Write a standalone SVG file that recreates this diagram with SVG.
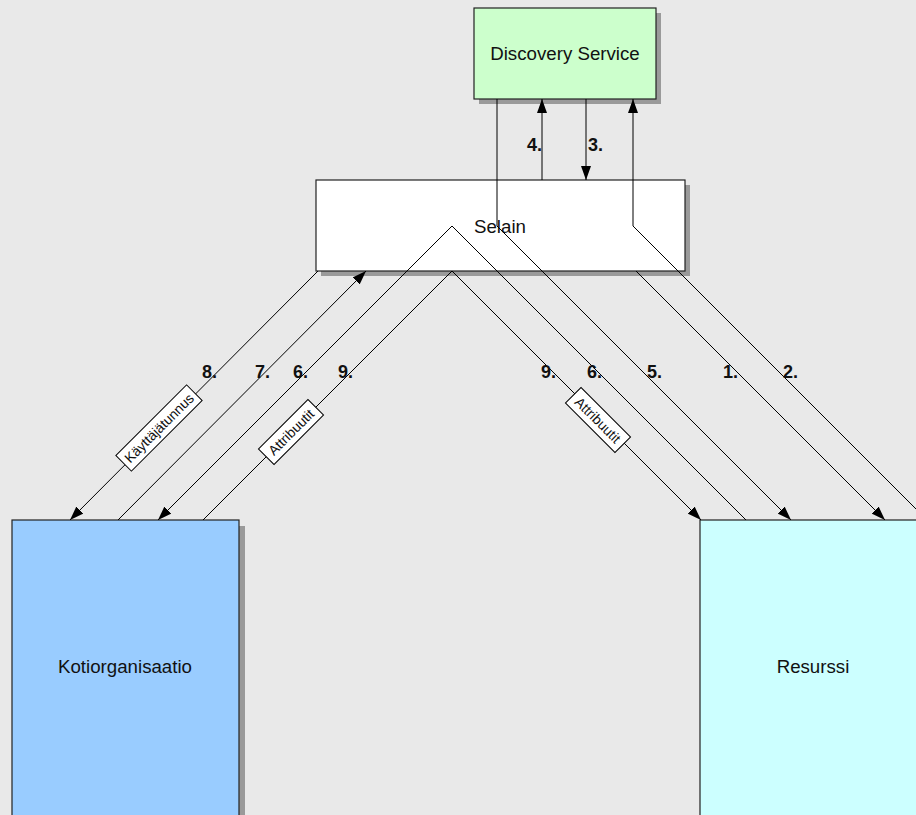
<svg xmlns="http://www.w3.org/2000/svg" width="916" height="815" viewBox="0 0 916 815">
<defs>
<marker id="arr" viewBox="0 0 14 10" refX="14" refY="5" markerWidth="14" markerHeight="10" markerUnits="userSpaceOnUse" orient="auto"><path d="M0,0 L14,5 L0,10 z" fill="#000"/></marker>
</defs>
<style>
.shadow{fill:#9a9a9a}
.box{stroke:#222;stroke-width:1.2}
.nl{font-family:"Liberation Sans",Arial,sans-serif;font-size:18.7px;fill:#111;text-anchor:middle}
.num{font-family:"Liberation Sans",Arial,sans-serif;font-size:18px;font-weight:bold;fill:#111}
.con{fill:none;stroke:#000;stroke-width:1}
.lb{fill:#fff;stroke:#000;stroke-width:1}
.lt{font-family:"Liberation Sans",Arial,sans-serif;font-size:13.8px;fill:#111;text-anchor:middle}
</style>
<rect width="916" height="815" fill="#e9e9e9"/>
<g id="discovery">
<rect class="shadow" x="479" y="13" width="182" height="91"/>
<rect class="box" x="474" y="8" width="182" height="91" fill="#ccffcc"/>
<text class="nl" x="565" y="60">Discovery Service</text>
</g>
<g id="selain">
<rect class="shadow" x="321" y="185" width="369" height="91"/>
<rect class="box" x="316" y="180" width="369" height="91" fill="#ffffff"/>
<text class="nl" x="500" y="233">Selain</text>
</g>
<g id="kotiorganisaatio">
<rect class="shadow" x="18" y="526" width="227" height="300"/>
<rect class="box" x="12" y="520" width="227" height="300" fill="#99ccff"/>
<text class="nl" x="125" y="673">Kotiorganisaatio</text>
</g>
<g id="resurssi">
<rect class="shadow" x="706" y="526" width="227" height="300"/>
<rect class="box" x="700" y="520" width="227" height="300" fill="#ccffff"/>
<text class="nl" x="813" y="673">Resurssi</text>
</g>
<g id="connectors">
<path class="con" d="M636,271 L885,520" marker-end="url(#arr)"/>
<path class="con" d="M927,520 L633,226 L633,99" marker-end="url(#arr)"/>
<path class="con" d="M586,99 L586,180" marker-end="url(#arr)"/>
<path class="con" d="M542,180 L542,99" marker-end="url(#arr)"/>
<path class="con" d="M497,99 L497,226 L791,520" marker-end="url(#arr)"/>
<path class="con" d="M746,520 L452,226 L158,520" marker-end="url(#arr)"/>
<path class="con" d="M118,520 L366,271" marker-end="url(#arr)"/>
<path class="con" d="M318,271 L70,520" marker-end="url(#arr)"/>
<path class="con" d="M203,520 L452,271 L701,520" marker-end="url(#arr)"/>
<g transform="translate(159,428) rotate(-45)">
<rect class="lb" x="-50" y="-11" width="100" height="22"/>
<text class="lt" x="0" y="5">Käyttäjätunnus</text>
</g>
<g transform="translate(291,432) rotate(-45)">
<rect class="lb" x="-35" y="-11" width="70" height="22"/>
<text class="lt" x="0" y="5">Attribuutit</text>
</g>
<g transform="translate(598,420) rotate(45)">
<rect class="lb" x="-35" y="-11" width="70" height="22"/>
<text class="lt" x="0" y="5">Attribuutit</text>
</g>
<text class="num" x="527" y="151">4.</text>
<text class="num" x="588" y="151">3.</text>
<text class="num" x="202" y="378">8.</text>
<text class="num" x="255" y="378">7.</text>
<text class="num" x="293" y="378">6.</text>
<text class="num" x="338" y="378">9.</text>
<text class="num" x="541" y="378">9.</text>
<text class="num" x="587" y="378">6.</text>
<text class="num" x="647" y="378">5.</text>
<text class="num" x="723" y="378">1.</text>
<text class="num" x="783" y="378">2.</text>
</g>
</svg>
